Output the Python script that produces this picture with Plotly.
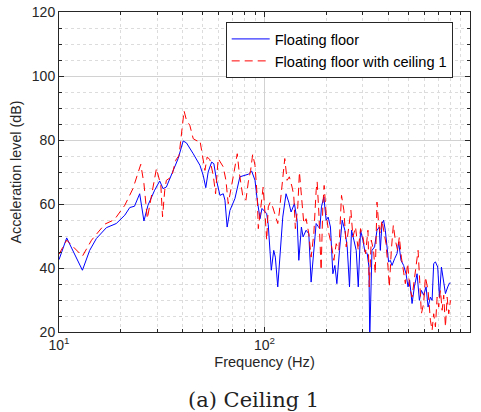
import plotly.graph_objects as go

# ---- data ----
freq_floor = [10.0, 10.9, 13.0, 14.1, 15.2, 17.0, 19.0, 20.9, 22.1, 23.3,
              24.7, 25.9, 27.1, 29.2, 30.9, 32.1, 33.3, 34.6, 36.6, 38.0,
              40.2, 41.7, 45.0, 48.5, 50.3, 51.8, 53.2, 55.3, 56.7, 58.4,
              60.7, 63.0, 64.2, 65.8, 67.9, 71.8, 75.9, 80.3, 83.4, 86.6,
              89.9, 92.2, 95.1, 97.2, 99.4, 102.5, 104.3, 107.9, 110.9, 112.9,
              116.0, 119.4, 122.7, 127.3, 131.2, 134.7, 139.8, 144.1, 146.9, 151.2,
              154.1, 159.4, 164.3, 168.6, 173.8, 178.4, 182.4, 185.9, 189.3, 194.5,
              199.5, 204.0, 209.4, 215.1, 220.0, 225.0, 231.7, 238.8, 246.1, 252.6,
              259.2, 265.1, 272.3, 279.5, 285.9, 293.4, 301.3, 308.2, 316.2, 322.3,
              325.2, 333.4, 343.3, 352.7, 361.9, 366.0, 373.0, 379.8, 387.1, 394.6,
              401.7, 409.5, 417.3, 429.7, 441.5, 449.5, 461.7, 475.4, 488.4, 499.4,
              508.5, 522.4, 536.1, 552.6, 567.1, 579.9, 595.0, 611.3, 625.2, 641.6,
              654.0, 665.8, 678.7, 696.4, 710.0, 726.1, 745.0, 759.4, 779.3, 794.3,
              803.3]
level_floor = [42.6, 49.4, 39.3, 45.5, 49.2, 52.6, 53.9, 56.5, 58.9, 59.3,
               63.2, 54.7, 59.6, 64.3, 67.2, 64.8, 65.3, 67.9, 71.1, 74.2,
               79.7, 79.1, 75.7, 72.1, 69.0, 65.1, 70.0, 73.1, 72.6, 67.4,
               62.7, 63.2, 61.2, 52.8, 58.0, 61.7, 68.5, 69.0, 69.3, 70.3,
               67.4, 61.2, 55.4, 58.6, 58.0, 57.0, 53.5, 39.3, 45.5, 43.4,
               34.1, 44.5, 55.9, 63.2, 60.6, 57.5, 60.1, 54.9, 42.4, 52.8,
               49.7, 51.8, 50.7, 35.6, 45.5, 53.9, 53.0, 52.3, 59.1, 62.2,
               54.9, 55.9, 52.8, 38.2, 40.8, 35.1, 45.5, 54.9, 51.8, 46.6,
               34.1, 51.8, 48.7, 45.5, 34.1, 51.8, 48.7, 45.0, 44.5, 40.3,
               18.0, 45.5, 46.6, 51.8, 52.8, 45.5, 53.9, 54.9, 51.8, 45.5,
               41.9, 42.4, 40.8, 42.9, 44.5, 48.1, 42.4, 40.8, 38.2, 34.1,
               36.2, 28.9, 34.1, 38.2, 29.9, 33.0, 31.5, 34.1, 27.8, 30.9,
               29.9, 41.4, 41.9, 40.3, 30.9, 40.3, 36.2, 32.0, 34.1, 35.3,
               35.3]

freq_ceiling = [10.0, 10.9, 13.0, 14.4, 16.7, 18.6, 20.9, 22.9, 25.0, 25.9,
                26.9, 28.2, 29.8, 31.3, 31.9, 32.7, 33.3, 35.3, 37.0, 38.4,
                39.5, 40.6, 41.7, 43.3, 45.0, 47.0, 48.5, 49.9, 51.3, 52.6,
                54.2, 56.3, 57.8, 59.5, 61.1, 63.0, 64.9, 66.6, 69.2, 71.8,
                73.7, 75.3, 78.3, 81.2, 83.4, 85.6, 87.6, 89.9, 92.2, 93.3,
                96.9, 98.5, 100.6, 102.5, 104.3, 106.7, 109.6, 112.9, 116.0, 118.1,
                120.8, 124.1, 125.5, 128.8, 132.1, 136.2, 138.8, 141.3, 145.2, 147.9,
                151.2, 155.3, 159.4, 164.3, 168.6, 173.8, 178.4, 180.4, 183.8, 188.6,
                192.2, 195.1, 199.5, 205.7, 211.1, 217.6, 223.3, 230.1, 237.0, 243.4,
                249.8, 257.4, 263.3, 269.3, 277.3, 285.9, 293.4, 301.3, 310.2, 318.7,
                323.5, 330.8, 339.4, 345.9, 352.7, 359.1, 366.0, 373.0, 379.8, 390.2,
                399.0, 404.9, 414.1, 423.5, 433.1, 444.4, 453.0, 463.3, 475.4, 484.6,
                497.3, 508.5, 522.4, 536.1, 548.3, 558.9, 569.0, 579.9, 595.0, 606.6,
                625.2, 641.6, 654.0, 665.8, 678.7, 691.8, 704.3, 717.9, 731.8, 745.0,
                759.4, 774.0, 788.1, 803.3]
level_ceiling = [44.3, 48.7, 43.7, 48.7, 53.7, 55.1, 59.6, 64.8, 72.4, 66.4,
                 55.4, 63.2, 71.1, 65.8, 56.0, 64.3, 67.4, 68.5, 73.7, 75.2,
                 82.0, 89.1, 86.2, 84.6, 80.4, 79.7, 79.9, 75.7, 70.5, 74.7,
                 73.9, 69.0, 63.2, 74.2, 73.1, 71.6, 67.4, 60.1, 65.8, 71.1,
                 75.7, 70.0, 62.7, 61.2, 66.9, 70.5, 75.5, 72.1, 62.2, 52.3,
                 61.2, 65.3, 57.0, 48.7, 59.1, 60.6, 59.1, 56.5, 53.9, 57.5,
                 64.3, 70.0, 74.2, 67.4, 68.5, 65.3, 62.7, 52.3, 59.1, 70.0,
                 63.7, 53.9, 55.4, 50.7, 43.4, 50.7, 64.3, 66.9, 57.5, 39.3,
                 59.1, 65.8, 57.0, 50.7, 47.6, 42.4, 47.6, 45.5, 62.7, 58.0,
                 46.6, 52.8, 58.0, 49.7, 52.8, 45.5, 52.3, 49.7, 44.5, 51.8,
                 34.1, 48.7, 45.5, 38.2, 60.6, 53.9, 50.7, 54.9, 51.8, 47.6,
                 40.3, 34.1, 45.5, 53.4, 48.7, 45.5, 49.7, 43.4, 38.7, 35.1,
                 41.4, 34.1, 30.9, 37.2, 42.4, 45.5, 36.2, 25.7, 28.9, 37.2,
                 33.0, 23.7, 20.5, 25.7, 21.6, 30.9, 27.8, 33.0, 26.8, 31.5,
                 21.6, 30.9, 25.7, 29.9]

x_major_ticks = [10, 100, 1000]
x_major_labels = ["10<sup>1</sup>", "10<sup>2</sup>", "10<sup>3</sup>"]
x_minor_ticks = [20, 30, 40, 50, 60, 70, 80, 90,
                 200, 300, 400, 500, 600, 700, 800, 900]

series_names = ["Floating floor", "Floating floor with ceiling 1"]

FONT = "Liberation Sans, Arial, sans-serif"
AX = "#262626"

fig = go.Figure()
fig.add_trace(go.Scatter(x=freq_floor, y=level_floor, mode="lines",
                         name=series_names[0],
                         line=dict(color="#0000ff", width=1)))
fig.add_trace(go.Scatter(x=freq_ceiling, y=level_ceiling, mode="lines",
                         name=series_names[1],
                         line=dict(color="#ff0000", width=1, dash="8px,5px")))

fig.update_layout(
    width=481, height=412,
    margin=dict(l=59, r=11, t=12, b=80, autoexpand=False),
    paper_bgcolor="white", plot_bgcolor="white",
    font=dict(family=FONT, size=14, color=AX),
    showlegend=True,
    legend=dict(x=0.4056, y=0.969, xanchor="left", yanchor="top",
                itemwidth=38,
                bgcolor="white", bordercolor=AX, borderwidth=1,
                font=dict(family=FONT, size=14.6, color="black")),
    annotations=[dict(text="(a) Ceiling 1", xref="paper", yref="paper",
                      x=0.474, y=-0.213, xanchor="center", yanchor="middle",
                      showarrow=False,
                      font=dict(family="DejaVu Serif, serif", size=21, color="#222222"))],
)

fig.update_xaxes(
    type="log", range=[1, 3], automargin=False,
    tickmode="array", tickvals=x_major_ticks, ticktext=x_major_labels,
    ticks="inside", ticklen=5, tickcolor=AX, tickwidth=1,
    showline=True, linecolor=AX, linewidth=1, mirror="allticks",
    showgrid=True, gridcolor="#d2d2d2", gridwidth=1,
    zeroline=False,
    tickfont=dict(family=FONT, size=14, color=AX),
    title=dict(text="Frequency (Hz)", font=dict(family=FONT, size=14.6, color=AX), standoff=4),
    minor=dict(tickmode="array", tickvals=x_minor_ticks, ticks="inside", ticklen=3,
               tickcolor=AX, showgrid=True, gridcolor="#dcdcdc", griddash="dot", gridwidth=1),
)
fig.update_yaxes(
    range=[20, 120], tickmode="linear", tick0=20, dtick=20, automargin=False,
    ticks="inside", ticklen=5, tickcolor=AX, tickwidth=1,
    showline=True, linecolor=AX, linewidth=1, mirror="allticks",
    showgrid=True, gridcolor="#d2d2d2", gridwidth=1,
    zeroline=False,
    tickfont=dict(family=FONT, size=14, color=AX),
    title=dict(text="Acceleration level (dB)", font=dict(family=FONT, size=14.3, color=AX), standoff=6),
    minor=dict(dtick=5, ticks="inside", ticklen=3, tickcolor=AX,
               showgrid=True, gridcolor="#dcdcdc", griddash="dot", gridwidth=1),
)

fig.write_html("out.html")
